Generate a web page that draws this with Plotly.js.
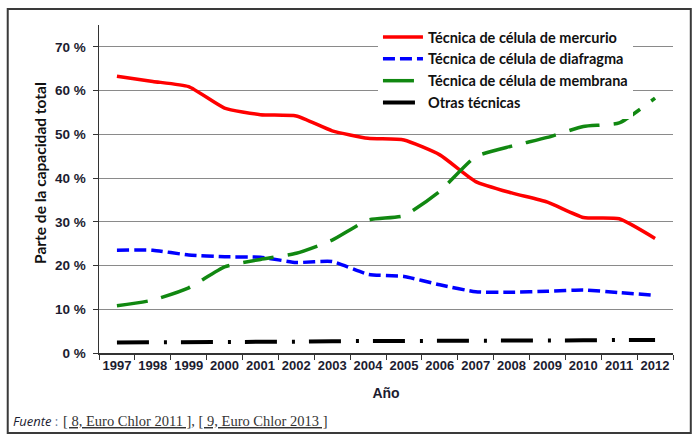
<!DOCTYPE html>
<html><head><meta charset="utf-8">
<script src="https://cdn.plot.ly/plotly-3.0.1.min.js"></script>
<style>html,body{margin:0;padding:0;background:#fff;}</style>
</head><body>
<div id="chart" style="width:698px;height:445px;"></div>
<script>
const years = ['1997','1998','1999','2000','2001','2002','2003','2004','2005','2006','2007','2008','2009','2010','2011','2012'];
const mercurio = [63.3, 62.1, 60.9, 56.0, 54.5, 54.2, 50.8, 49.1, 48.7, 45.3, 39.2, 36.6, 34.5, 31.0, 30.7, 26.2];
const diafragma = [23.5, 23.5, 22.4, 22.0, 21.9, 20.7, 20.9, 18.0, 17.5, 15.6, 14.0, 13.9, 14.1, 14.4, 13.8, 13.2];
const membrana = [10.8, 12.1, 14.9, 19.7, 21.4, 22.8, 25.8, 30.4, 31.4, 37.0, 44.9, 47.3, 49.3, 51.8, 52.6, 58.3];
const otras = [2.4, 2.4, 2.5, 2.5, 2.6, 2.6, 2.7, 2.7, 2.7, 2.8, 2.8, 2.8, 2.8, 2.9, 3.0, 3.0];
const seriesNames = ['Técnica de célula de mercurio','Técnica de célula de diafragma','Técnica de célula de membrana','Otras técnicas'];

const traces = [
  {x:years, y:mercurio, name:seriesNames[0], mode:'lines', line:{color:'#ff0000', width:3.5, shape:'spline', smoothing:0.5}},
  {x:years, y:diafragma, name:seriesNames[1], mode:'lines', line:{color:'#0000ff', width:3.5, dash:'12px,5px', shape:'spline', smoothing:0.5}},
  {x:years, y:membrana, name:seriesNames[2], mode:'lines', line:{color:'#118811', width:3.5, dash:'31px,14px', shape:'spline', smoothing:0.5}},
  {x:years, y:otras, name:seriesNames[3], mode:'lines', line:{color:'#000000', width:4, dash:'32px,15px,3px,14px'}}
];
const layout = {
  width:698, height:445,
  margin:{l:99, r:25, t:25, b:92},
  paper_bgcolor:'#fff', plot_bgcolor:'#fff',
  showlegend:true,
  legend:{x:0.486, y:1.012, xanchor:'left', yanchor:'top', bgcolor:'#ffffff',
    font:{family:'Lato, Open Sans, sans-serif', size:14.5, color:'#111', weight:'bold'},
    tracegroupgap:0, itemwidth:40},
  xaxis:{type:'category', range:[-0.5,15.5], showgrid:false, zeroline:false,
    showline:true, linecolor:'#333', linewidth:1.5, ticks:'outside', tickson:'boundaries', ticklen:5, tickcolor:'#333',
    tickangle:0,
    tickfont:{family:'Liberation Sans, Arial, sans-serif', size:13, color:'#1c1c30', weight:'bold'}, fixedrange:true,
    title:{text:'<b>Año</b>', font:{family:'Liberation Sans, Arial, sans-serif', size:14, color:'#1c1c30'}, standoff:16}},
  yaxis:{range:[0,75], dtick:10, tick0:0, ticksuffix:' %', showgrid:true, gridcolor:'#8a8a8a', gridwidth:1,
    zeroline:false, showline:true, linecolor:'#333', linewidth:1.5, ticks:'outside', ticklen:5, tickcolor:'#333',
    ticklabelstandoff:4,
    tickfont:{family:'Liberation Sans, Arial, sans-serif', size:13.5, color:'#1c1c30', weight:'bold'}, fixedrange:true},
  shapes:[
    {type:'rect', xref:'paper', yref:'paper', x0:-0.159, x1:1.031, y0:-0.244, y1:1.049,
     line:{color:'#3a3a3a', width:2}, fillcolor:'rgba(0,0,0,0)'}
  ],
  annotations:[
    {xref:'paper', yref:'paper', x:-0.104, y:0.55, xanchor:'center', yanchor:'middle', textangle:-90, showarrow:false,
     text:'Parte de la capacidad total', font:{family:'Lato, Open Sans, sans-serif', size:15.5, color:'#111', weight:'bold'}},
    {xref:'paper', yref:'paper', x:-0.154, y:-0.208, xanchor:'left', yanchor:'middle', showarrow:false,
     text:'<i>Fuente</i> <span style="color:#6a7a9a">:</span>', font:{family:'Open Sans, sans-serif', size:13, color:'#1c1c30'}},
    {xref:'paper', yref:'paper', x:-0.066, y:-0.208, xanchor:'left', yanchor:'middle', showarrow:false,
     text:'<u>[ 8, Euro Chlor 2011 ]</u>, <u>[ 9, Euro Chlor 2013 ]</u>', font:{family:'Liberation Serif, Times New Roman, serif', size:14.5, color:'#333'}}
  ]
};
Plotly.newPlot('chart', traces, layout, {displayModeBar:false, staticPlot:true});
</script>
</body></html>
